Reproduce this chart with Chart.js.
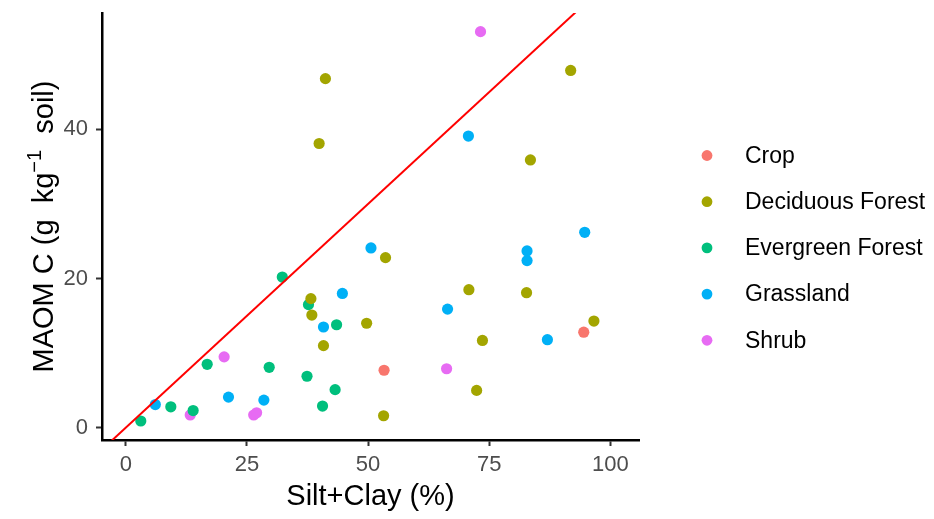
<!DOCTYPE html>
<html>
<head>
<meta charset="utf-8">
<script src="https://cdn.jsdelivr.net/npm/chart.js@4/dist/chart.umd.min.js"></script>
<style>
  html, body { margin: 0; padding: 0; background: #fff; }
  #wrap { width: 934px; height: 519px; position: relative; }
</style>
</head>
<body>
<div id="wrap"><canvas id="maomChart"></canvas></div>
<script>
var landUses = ["Crop", "Deciduous Forest", "Evergreen Forest", "Grassland", "Shrub"];
var landColors = ["#F8766D", "#A3A500", "#00BF7D", "#00B0F6", "#E76BF3"];

// silt+clay (%) and MAOM C (g/kg) per land use
var cropX = [53.3, 94.5];
var cropY = [7.7, 12.8];
var deciduousX = [41.2, 39.9, 91.8, 83.5, 38.2, 38.4, 49.7, 40.8, 53.6, 70.8, 82.7, 96.6, 73.6, 72.4, 53.2];
var deciduousY = [46.8, 38.1, 47.9, 35.9, 17.3, 15.1, 14.0, 11.0, 22.8, 18.5, 18.1, 14.3, 11.7, 5.0, 1.6];
var evergreenX = [32.3, 37.7, 43.5, 16.8, 29.6, 37.4, 43.2, 40.6, 9.3, 13.9, 3.1];
var evergreenY = [20.2, 16.5, 13.8, 8.5, 8.1, 6.9, 5.1, 2.9, 2.8, 2.3, 0.9];
var grasslandX = [70.7, 94.7, 50.6, 44.7, 40.8, 82.8, 82.8, 66.4, 87.0, 21.2, 28.5, 6.1];
var grasslandY = [39.1, 26.2, 24.1, 18.0, 13.5, 23.7, 22.4, 15.9, 11.8, 4.1, 3.7, 3.1];
var shrubX = [73.2, 20.3, 13.3, 26.4, 27.0, 66.2];
var shrubY = [53.1, 9.5, 1.7, 1.7, 2.0, 7.9];

// red reference line end points
var refLineX = [-5, 100];
var refLineY = [-3, 60];

var xTicks = [0, 25, 50, 75, 100];
var yTicks = [0, 20, 40];

var fontFamily = '"Liberation Sans", Arial, sans-serif';

function toPoints(xs, ys) {
    let pts = [];
    for (let i = 0; i < xs.length; i++) {
        pts.push({ x: xs[i], y: ys[i] });
    }
    return pts;
}

var groupX = [cropX, deciduousX, evergreenX, grasslandX, shrubX];
var groupY = [cropY, deciduousY, evergreenY, grasslandY, shrubY];

var datasets = [{
    type: 'line',
    label: 'ref',
    data: toPoints(refLineX, refLineY),
    borderColor: '#FF0000',
    borderWidth: 2,
    pointRadius: 0,
    fill: false,
    order: 0
}];
for (let i = 0; i < landUses.length; i++) {
    datasets.push({
        type: 'scatter',
        label: landUses[i],
        data: toPoints(groupX[i], groupY[i]),
        backgroundColor: landColors[i],
        borderWidth: 0,
        pointRadius: 5.6,
        pointHoverRadius: 5.6,
        order: 1
    });
}

// y title with a raised "-1"
var yTitlePlugin = {
    id: 'yTitle',
    afterDraw: function (chart) {
        var ctx = chart.ctx;
        var area = chart.chartArea;
        var big = '29px ' + fontFamily;
        var small = '20px ' + fontFamily;
        var parts = [["MAOM C (g  kg", big, 0], ["\u22121", small, -12], ["  soil)", big, 0]];
        ctx.save();
        ctx.translate(53, (area.top + area.bottom) / 2);
        ctx.rotate(-Math.PI / 2);
        ctx.fillStyle = '#000';
        ctx.textBaseline = 'alphabetic';
        ctx.textAlign = 'left';
        var total = 0;
        parts.forEach(function (p) { ctx.font = p[1]; total += ctx.measureText(p[0]).width; });
        var x = -total / 2;
        parts.forEach(function (p) {
            ctx.font = p[1];
            ctx.fillText(p[0], x, p[2]);
            x += ctx.measureText(p[0]).width;
        });
        ctx.restore();
    }
};

var legendPlugin = {
    id: 'sideLegend',
    afterDraw: function (chart) {
        var ctx = chart.ctx;
        var items = chart.data.datasets.filter(function (d) { return d.type === 'scatter'; });
        ctx.save();
        ctx.font = '23px ' + fontFamily;
        ctx.textBaseline = 'middle';
        ctx.textAlign = 'left';
        items.forEach(function (d, i) {
            var cy = 155.5 + i * 46.2;
            ctx.beginPath();
            ctx.arc(707, cy, 5.4, 0, Math.PI * 2);
            ctx.fillStyle = d.backgroundColor;
            ctx.fill();
            ctx.fillStyle = '#000';
            ctx.fillText(d.label, 745, cy + 1);
        });
        ctx.restore();
    }
};

new Chart(document.getElementById('maomChart'), {
    data: { datasets: datasets },
    plugins: [yTitlePlugin, legendPlugin],
    options: {
        responsive: true,
        maintainAspectRatio: false,
        animation: false,
        events: [],
        layout: { padding: { top: 13, right: 295, left: 0, bottom: 0 } },
        plugins: {
            legend: { display: false },
            tooltip: { enabled: false }
        },
        scales: {
            x: {
                type: 'linear',
                min: -4.9,
                max: 105.9,
                afterBuildTicks: function (scale) {
                    scale.ticks = xTicks.map(function (v) { return { value: v }; });
                },
                afterFit: function (scale) {
                    scale.height = 79;
                    scale.paddingLeft = 0;
                    scale.paddingRight = 0;
                },
                grid: { drawOnChartArea: false, drawTicks: true, tickLength: 6, tickWidth: 2, tickColor: '#333333', color: '#333333' },
                border: { display: true, color: '#000', width: 2.5 },
                ticks: { color: '#4D4D4D', font: { size: 22, family: fontFamily }, padding: 6, maxRotation: 0 },
                title: {
                    display: true,
                    text: 'Silt+Clay (%)',
                    color: '#000',
                    font: { size: 29, family: fontFamily },
                    padding: { top: 0, bottom: 5 }
                }
            },
            y: {
                type: 'linear',
                min: -1.65,
                max: 55.6,
                afterBuildTicks: function (scale) {
                    scale.ticks = yTicks.map(function (v) { return { value: v }; });
                },
                afterFit: function (scale) {
                    scale.width = 102;
                    scale.paddingTop = 0;
                    scale.paddingBottom = 0;
                },
                grid: { drawOnChartArea: false, drawTicks: true, tickLength: 6, tickWidth: 2, tickColor: '#333333', color: '#333333' },
                border: { display: true, color: '#000', width: 2.5 },
                ticks: { color: '#4D4D4D', font: { size: 22, family: fontFamily }, padding: 8 }
            }
        }
    }
});
</script>
</body>
</html>
